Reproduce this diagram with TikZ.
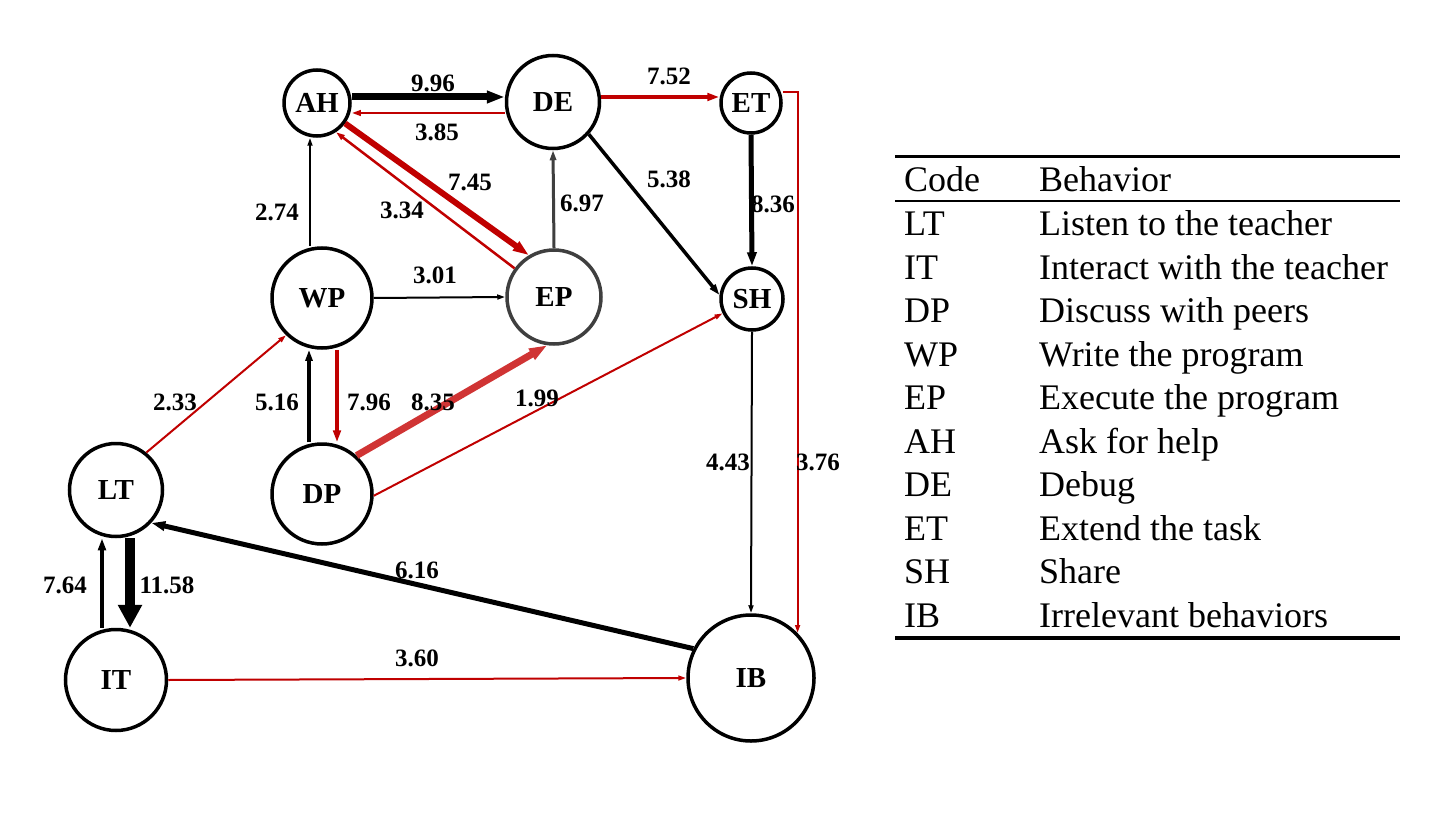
\documentclass[tikz,border=0pt]{standalone}
\usepackage{fontspec}
\setmainfont{Liberation Serif}
\usetikzlibrary{arrows.meta}
\definecolor{tred}{HTML}{C00000}
\definecolor{lred}{HTML}{D03434}
\definecolor{dgray}{HTML}{3F3F3F}
\tikzset{
	behav/.style={circle, draw, line width=3.5pt, inner sep=0pt, minimum size=#1,
		font=\fontsize{29}{29}\selectfont\bfseries},
	lbl/.style={inner sep=0pt, font=\fontsize{25}{25}\selectfont\bfseries},
	tab/.style={inner sep=0pt, anchor=base west, font=\fontsize{36}{36}\selectfont},
	flow/.style={line width=#1, -{Triangle[length=4pt 2, width=2pt 1.4]}}
}

\begin{document}
\begin{tikzpicture}[x=1pt, y=-1pt]
	\fill[white] (0,0) rectangle (1455,818);
	\useasboundingbox (0,0) rectangle (1455,818);
	% behaviours
	\node[behav=66pt] (AH) at (317,103) {AH};
	\node[behav=93pt] (DE) at (553,102) {DE};
	\node[behav=60pt] (ET) at (751,103) {ET};
	\node[behav=100pt] (WP) at (322,298) {WP};
	\node[behav=94pt, draw=dgray] (EP) at (554,297) {EP};
	\node[behav=62pt] (SH) at (752,299) {SH};
	\node[behav=93pt] (LT) at (116,490) {LT};
	\node[behav=100pt] (DP) at (322,494) {DP};
	\node[behav=101pt] (IT) at (116,680) {IT};
	\node[behav=126pt] (IB) at (751,678) {IB};
	% transitions
	\draw[flow=7pt] ([yshift=6pt]AH.east) -- ([yshift=6pt]AH.east -| DE.west);
	\draw[flow=2.5pt, tred] ([yshift=-11pt]DE.west) -- ([yshift=-11pt]DE.west -| AH.east);
	\draw[flow=4pt, tred] ([yshift=5pt]DE.east) -- ([yshift=5pt]DE.east -| ET.west);
	\draw[flow=2pt, tred] ([yshift=11pt]ET.east) -| (IB.44);
	\draw[flow=5pt] (ET.south) -- (SH.north);
	\draw[flow=3.5pt] (DE.-42) -- (SH.173);
	\draw[flow=3pt, dgray] (EP.north) -- (DE.south);
	\draw[flow=2pt] (WP.east) -- (EP.west);
	\draw[flow=6pt, tred] (AH.-36) -- (EP.121);
	\draw[flow=2.5pt, tred] (EP.144) -- (AH.-57);
	\draw[flow=2pt] ([xshift=-12pt]WP.north) -- ([xshift=-12pt]WP.north |- AH.south);
	\draw[flow=2pt, tred] (LT.51) -- (WP.226);
	\draw[flow=3.5pt] ([xshift=-13pt]DP.north) -- ([xshift=-13pt]DP.north |- WP.south);
	\draw[flow=4pt, tred] ([xshift=15pt]WP.south) -- ([xshift=15pt]WP.south |- DP.north);
	\draw[flow=7pt, lred] (DP.48) -- (EP.262);
	\draw[flow=2pt, tred] (DP.-2) -- (SH.206);
	\draw[flow=2pt] (SH.south) -- (IB.north);
	\draw[flow=5pt] (IB.153) -- (LT.-43);
	\draw[line width=10pt, -{Triangle[length=23pt, width=23pt]}] ([xshift=14pt]LT.south) -- ([xshift=14pt]LT.south |- IT.north);
	\draw[flow=4pt] ([xshift=-14pt]IT.north) -- ([xshift=-14pt]IT.north |- LT.south);
	\draw[flow=2pt, tred] (IT.east) -- (IB.west);
	% probabilities
	\foreach \v/\x/\y [count=\i] in {9.96/433/83, 3.85/437/132, 2.74/277/212, 3.34/402/210,
		7.45/470/182, 3.01/435/275, 7.52/669/76, 6.97/582/203, 5.38/669/179, 8.36/773/204,
		2.33/175/402, 5.16/277/402, 7.96/369/402, 8.35/433/402, 1.99/537/398, 4.43/728/462,
		3.76/818/462, 7.64/65/585, 11.58/167/585, 6.16/417/570, 3.60/417/658}
		\node[lbl] (p\i) at (\x,\y) {\v};
	% code table
	\draw[line width=3pt] (895,157) -- (1400,157);
	\draw[line width=1.5pt] (895,201) -- (1400,201);
	\draw[line width=3.5pt] (895,638) -- (1400,638);
	\node[tab] (c0) at (904,192) {Code};
	\node[tab] (b0) at (1039,192) {Behavior};
	\foreach \c/\b [count=\i] in {LT/Listen to the teacher, IT/Interact with the teacher,
		DP/Discuss with peers, WP/Write the program, EP/Execute the program,
		AH/Ask for help, DE/Debug, ET/Extend the task, SH/Share, IB/Irrelevant behaviors} {
		\node[tab] (c\i) at (904,{192+43.5*\i}) {\c};
		\node[tab] (b\i) at (1039,{192+43.5*\i}) {\b};
	}
\end{tikzpicture}
\end{document}
